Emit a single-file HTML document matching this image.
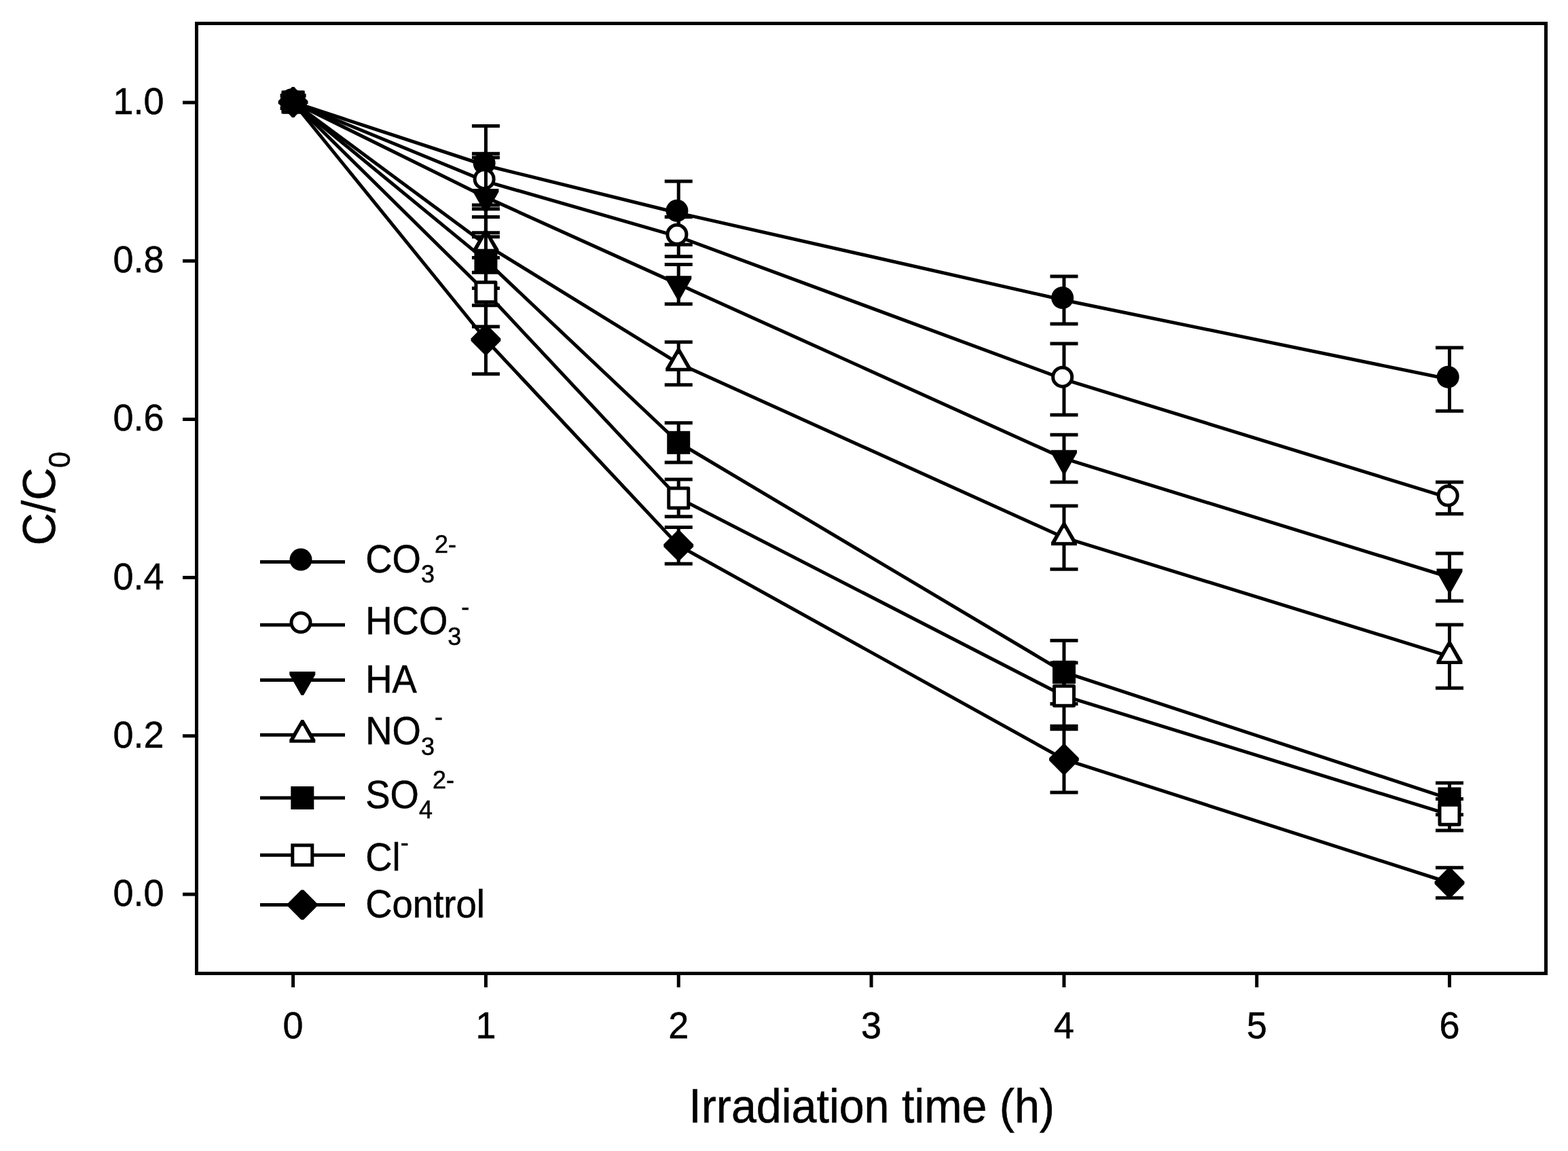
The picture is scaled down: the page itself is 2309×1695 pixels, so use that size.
<!DOCTYPE html><html><head><meta charset="utf-8"><title>C/C0 vs Irradiation time</title>
<style>html,body{margin:0;padding:0;background:#fff;}svg{display:block;}text{font-family:"Liberation Sans", Arial, sans-serif;fill:#000;stroke:#000;stroke-width:0.5px;}</style></head><body>
<svg width="2309" height="1695" viewBox="0 0 2309 1695">
<rect width="2309" height="1695" fill="#fff"/>
<g stroke-linejoin="round">
<polyline points="431.6,150.49 715.42,243.75 999.24,313.7 1566.88,441.94 2134.52,558.53" fill="none" stroke="#000" stroke-width="5"/>
<path d="M715.42 185.46V302.04M694.92 185.46H735.92M694.92 302.04H735.92M999.24 267.07V360.34M978.74 267.07H1019.74M978.74 360.34H1019.74M1566.88 406.97V476.92M1546.38 406.97H1587.38M1546.38 476.92H1587.38M2134.52 511.89V605.16M2114.02 511.89H2155.02M2114.02 605.16H2155.02" fill="none" stroke="#000" stroke-width="5"/>
<circle cx="429.3" cy="147.09" r="16.5" fill="#000"/>
<circle cx="713.12" cy="240.35" r="16.5" fill="#000"/>
<circle cx="996.94" cy="310.3" r="16.5" fill="#000"/>
<circle cx="1564.58" cy="438.54" r="16.5" fill="#000"/>
<circle cx="2132.22" cy="555.13" r="16.5" fill="#000"/>
<polyline points="431.6,150.49 715.42,267.07 999.24,348.68 1566.88,558.53 2134.52,733.4" fill="none" stroke="#000" stroke-width="5"/>
<path d="M715.42 226.27V307.87M694.92 226.27H735.92M694.92 307.87H735.92M999.24 319.53V377.82M978.74 319.53H1019.74M978.74 377.82H1019.74M1566.88 506.07V610.99M1546.38 506.07H1587.38M1546.38 610.99H1587.38M2134.52 710.09V756.72M2114.02 710.09H2155.02M2114.02 756.72H2155.02" fill="none" stroke="#000" stroke-width="5"/>
<circle cx="429.3" cy="147.09" r="14" fill="#fff" stroke="#000" stroke-width="5"/>
<circle cx="713.12" cy="263.67" r="14" fill="#fff" stroke="#000" stroke-width="5"/>
<circle cx="996.94" cy="345.28" r="14" fill="#fff" stroke="#000" stroke-width="5"/>
<circle cx="1564.58" cy="555.13" r="14" fill="#fff" stroke="#000" stroke-width="5"/>
<circle cx="2132.22" cy="730" r="14" fill="#fff" stroke="#000" stroke-width="5"/>
<polyline points="431.6,150.49 715.42,290.39 999.24,418.63 1566.88,675.11 2134.52,849.99" fill="none" stroke="#000" stroke-width="5"/>
<path d="M715.42 232.1V348.68M694.92 232.1H735.92M694.92 348.68H735.92M999.24 389.48V447.77M978.74 389.48H1019.74M978.74 447.77H1019.74M1566.88 640.14V710.09M1546.38 640.14H1587.38M1546.38 710.09H1587.38M2134.52 815.01V884.96M2114.02 815.01H2155.02M2114.02 884.96H2155.02" fill="none" stroke="#000" stroke-width="5"/>
<polygon points="412.6,138.09 450.6,138.09 450.6,142.49 433.4,172.89 429.8,172.89 412.6,142.49" fill="#000"/>
<polygon points="696.42,277.99 734.42,277.99 734.42,282.39 717.22,312.79 713.62,312.79 696.42,282.39" fill="#000"/>
<polygon points="980.24,406.23 1018.24,406.23 1018.24,410.63 1001.04,441.03 997.44,441.03 980.24,410.63" fill="#000"/>
<polygon points="1547.88,662.71 1585.88,662.71 1585.88,667.11 1568.68,697.51 1565.08,697.51 1547.88,667.11" fill="#000"/>
<polygon points="2115.52,837.59 2153.52,837.59 2153.52,841.99 2136.32,872.39 2132.72,872.39 2115.52,841.99" fill="#000"/>
<polyline points="431.6,150.49 715.42,360.34 999.24,535.21 1566.88,791.69 2134.52,966.57" fill="none" stroke="#000" stroke-width="5"/>
<path d="M715.42 319.53V401.14M694.92 319.53H735.92M694.92 401.14H735.92M999.24 503.73V566.69M978.74 503.73H1019.74M978.74 566.69H1019.74M1566.88 745.06V838.33M1546.38 745.06H1587.38M1546.38 838.33H1587.38M2134.52 919.93V1013.2M2114.02 919.93H2155.02M2114.02 1013.2H2155.02" fill="none" stroke="#000" stroke-width="5"/>
<polygon points="429.8,128.09 433.4,128.09 450.6,157.49 450.6,161.99 412.6,161.99 412.6,157.49" fill="#000"/><polygon points="430.7,136.89 432.5,136.89 443.85,157.09 419.35,157.09" fill="#fff"/>
<polygon points="713.62,337.94 717.22,337.94 734.42,367.34 734.42,371.84 696.42,371.84 696.42,367.34" fill="#000"/><polygon points="714.52,346.74 716.32,346.74 727.67,366.94 703.17,366.94" fill="#fff"/>
<polygon points="997.44,512.81 1001.04,512.81 1018.24,542.21 1018.24,546.71 980.24,546.71 980.24,542.21" fill="#000"/><polygon points="998.34,521.61 1000.14,521.61 1011.49,541.81 986.99,541.81" fill="#fff"/>
<polygon points="1565.08,769.29 1568.68,769.29 1585.88,798.69 1585.88,803.19 1547.88,803.19 1547.88,798.69" fill="#000"/><polygon points="1565.98,778.09 1567.78,778.09 1579.13,798.29 1554.63,798.29" fill="#fff"/>
<polygon points="2132.72,944.17 2136.32,944.17 2153.52,973.57 2153.52,978.07 2115.52,978.07 2115.52,973.57" fill="#000"/><polygon points="2133.62,952.97 2135.42,952.97 2146.77,973.17 2122.27,973.17" fill="#fff"/>
<polyline points="431.6,150.49 715.42,383.65 999.24,651.79 1566.88,989.88 2134.52,1176.42" fill="none" stroke="#000" stroke-width="5"/>
<path d="M715.42 342.85V424.46M694.92 342.85H735.92M694.92 424.46H735.92M999.24 622.65V680.94M978.74 622.65H1019.74M978.74 680.94H1019.74M1566.88 943.25V1036.52M1546.38 943.25H1587.38M1546.38 1036.52H1587.38M2134.52 1153.1V1199.73M2114.02 1153.1H2155.02M2114.02 1199.73H2155.02" fill="none" stroke="#000" stroke-width="5"/>
<rect x="414.6" y="133.49" width="34" height="34" fill="#000"/>
<rect x="698.42" y="366.65" width="34" height="34" fill="#000"/>
<rect x="982.24" y="634.79" width="34" height="34" fill="#000"/>
<rect x="1549.88" y="972.88" width="34" height="34" fill="#000"/>
<rect x="2117.52" y="1159.42" width="34" height="34" fill="#000"/>
<polyline points="431.6,150.49 715.42,430.29 999.24,733.4 1566.88,1024.86 2134.52,1199.73" fill="none" stroke="#000" stroke-width="5"/>
<path d="M715.42 379.57V481M694.92 379.57H735.92M694.92 481H735.92M999.24 706V760.8M978.74 706H1019.74M978.74 760.8H1019.74M1566.88 975.89V1073.82M1546.38 975.89H1587.38M1546.38 1073.82H1587.38M2134.52 1176.42V1223.05M2114.02 1176.42H2155.02M2114.02 1223.05H2155.02" fill="none" stroke="#000" stroke-width="5"/>
<rect x="417.1" y="135.99" width="29" height="29" fill="#fff" stroke="#000" stroke-width="5"/>
<rect x="700.92" y="415.79" width="29" height="29" fill="#fff" stroke="#000" stroke-width="5"/>
<rect x="984.74" y="718.9" width="29" height="29" fill="#fff" stroke="#000" stroke-width="5"/>
<rect x="1552.38" y="1010.36" width="29" height="29" fill="#fff" stroke="#000" stroke-width="5"/>
<rect x="2120.02" y="1185.23" width="29" height="29" fill="#fff" stroke="#000" stroke-width="5"/>
<polyline points="431.6,150.49 715.42,500.24 999.24,803.35 1566.88,1118.13 2134.52,1300" fill="none" stroke="#000" stroke-width="5"/>
<path d="M715.42 449.76V550.72M694.92 449.76H735.92M694.92 550.72H735.92M999.24 776.54V830.17M978.74 776.54H1019.74M978.74 830.17H1019.74M1566.88 1069.16V1167.09M1546.38 1069.16H1587.38M1546.38 1167.09H1587.38M2134.52 1277.84V1322.15M2114.02 1277.84H2155.02M2114.02 1322.15H2155.02" fill="none" stroke="#000" stroke-width="5"/>
<polygon points="429.8,128.49 433.4,128.49 453.5,148.69 453.5,152.29 433.4,172.49 429.8,172.49 409.7,152.29 409.7,148.69" fill="#000"/>
<polygon points="713.62,478.24 717.22,478.24 737.32,498.44 737.32,502.04 717.22,522.24 713.62,522.24 693.52,502.04 693.52,498.44" fill="#000"/>
<polygon points="997.44,781.35 1001.04,781.35 1021.14,801.55 1021.14,805.15 1001.04,825.35 997.44,825.35 977.34,805.15 977.34,801.55" fill="#000"/>
<polygon points="1565.08,1096.13 1568.68,1096.13 1588.78,1116.33 1588.78,1119.93 1568.68,1140.13 1565.08,1140.13 1544.98,1119.93 1544.98,1116.33" fill="#000"/>
<polygon points="2132.72,1278 2136.32,1278 2156.42,1298.2 2156.42,1301.8 2136.32,1322 2132.72,1322 2112.62,1301.8 2112.62,1298.2" fill="#000"/>
</g>
<rect x="289.5" y="34.5" width="1987" height="1399" fill="none" stroke="#000" stroke-width="5"/>
<path d="M269 1316.92H289.5M269 1083.75H289.5M269 850.59H289.5M269 617.42H289.5M269 384.25H289.5M269 151.09H289.5M431.6 1433.5V1454M715.42 1433.5V1454M999.24 1433.5V1454M1283.06 1433.5V1454M1566.88 1433.5V1454M1850.7 1433.5V1454M2134.52 1433.5V1454" stroke="#000" stroke-width="5" fill="none"/>
<text transform="translate(241.5,1333.92) scale(1,1.045)" font-size="54" text-anchor="end">0.0</text>
<text transform="translate(241.5,1100.75) scale(1,1.045)" font-size="54" text-anchor="end">0.2</text>
<text transform="translate(241.5,867.59) scale(1,1.045)" font-size="54" text-anchor="end">0.4</text>
<text transform="translate(241.5,634.42) scale(1,1.045)" font-size="54" text-anchor="end">0.6</text>
<text transform="translate(241.5,401.25) scale(1,1.045)" font-size="54" text-anchor="end">0.8</text>
<text transform="translate(241.5,168.09) scale(1,1.045)" font-size="54" text-anchor="end">1.0</text>
<text transform="translate(431.6,1528.9) scale(1,1.045)" font-size="54" text-anchor="middle">0</text>
<text transform="translate(715.42,1528.9) scale(1,1.045)" font-size="54" text-anchor="middle">1</text>
<text transform="translate(999.24,1528.9) scale(1,1.045)" font-size="54" text-anchor="middle">2</text>
<text transform="translate(1283.06,1528.9) scale(1,1.045)" font-size="54" text-anchor="middle">3</text>
<text transform="translate(1566.88,1528.9) scale(1,1.045)" font-size="54" text-anchor="middle">4</text>
<text transform="translate(1850.7,1528.9) scale(1,1.045)" font-size="54" text-anchor="middle">5</text>
<text transform="translate(2134.52,1528.9) scale(1,1.045)" font-size="54" text-anchor="middle">6</text>
<text transform="translate(1283.6,1652.5) scale(1,1.055)" font-size="66.4" text-anchor="middle">Irradiation time (h)</text>
<text transform="translate(81,803.2) rotate(-90) scale(1,1.02)" font-size="66.4">C/C<tspan font-size="43" dy="22">0</tspan></text>
<path d="M383 827.5H508" stroke="#000" stroke-width="5"/>
<circle cx="443" cy="824.1" r="16.5" fill="#000"/>
<text transform="translate(538.2,842.5) scale(1,1.05)" font-size="54.5">CO<tspan font-size="36" dy="15">3</tspan><tspan font-size="36" dy="-42">2-</tspan></text>
<path d="M383 920.2H508" stroke="#000" stroke-width="5"/>
<circle cx="443" cy="916.8" r="14" fill="#fff" stroke="#000" stroke-width="5"/>
<text transform="translate(538.2,934) scale(1,1.05)" font-size="54.5">HCO<tspan font-size="36" dy="15">3</tspan><tspan font-size="36" dy="-42">-</tspan></text>
<path d="M383 1001.4H508" stroke="#000" stroke-width="5"/>
<polygon points="426.3,989 464.3,989 464.3,993.4 447.1,1023.8 443.5,1023.8 426.3,993.4" fill="#000"/>
<text transform="translate(538.2,1020) scale(1,1.05)" font-size="54.5">HA</text>
<path d="M383 1082.3H508" stroke="#000" stroke-width="5"/>
<polygon points="443.5,1059.9 447.1,1059.9 464.3,1089.3 464.3,1093.8 426.3,1093.8 426.3,1089.3" fill="#000"/><polygon points="444.4,1068.7 446.2,1068.7 457.55,1088.9 433.05,1088.9" fill="#fff"/>
<text transform="translate(538.2,1096) scale(1,1.05)" font-size="54.5">NO<tspan font-size="36" dy="15">3</tspan><tspan font-size="36" dy="-42">-</tspan></text>
<path d="M383 1175H508" stroke="#000" stroke-width="5"/>
<rect x="428.3" y="1158" width="34" height="34" fill="#000"/>
<text transform="translate(538.2,1189.5) scale(1,1.05)" font-size="54.5">SO<tspan font-size="36" dy="15">4</tspan><tspan font-size="36" dy="-42">2-</tspan></text>
<path d="M383 1259.3H508" stroke="#000" stroke-width="5"/>
<rect x="430.8" y="1244.8" width="29" height="29" fill="#fff" stroke="#000" stroke-width="5"/>
<text transform="translate(538.2,1281.7) scale(1,1.05)" font-size="54.5">Cl<tspan font-size="36" dy="-27">-</tspan></text>
<path d="M383 1332.5H508" stroke="#000" stroke-width="5"/>
<polygon points="443.5,1310.5 447.1,1310.5 467.2,1330.7 467.2,1334.3 447.1,1354.5 443.5,1354.5 423.4,1334.3 423.4,1330.7" fill="#000"/>
<text transform="translate(538.2,1351) scale(1,1.05)" font-size="54.5">Control</text>
</svg></body></html>
